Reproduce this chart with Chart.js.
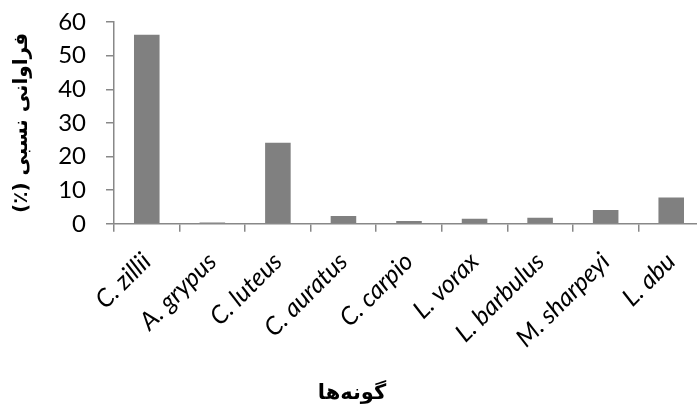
<!DOCTYPE html>
<html>
<head>
<meta charset="utf-8">
<script src="https://cdn.jsdelivr.net/npm/chart.js@4"></script>
<style>
    html, body { margin: 0; padding: 0; background: #ffffff; overflow: hidden; }
    #wrap { width: 704px; height: 414px; }
</style>
</head>
<body>
<div id="wrap"><canvas id="speciesChart"></canvas></div>
<script>
const speciesLabels = ["C. zillii", "A. grypus", "C. luteus", "C. auratus", "C. carpio", "L. vorax", "L. barbulus", "M. sharpeyi", "L. abu"];
const relativeFrequency = [56.2, 0.4, 24.1, 2.3, 0.8, 1.5, 1.8, 4.1, 7.8];
const yTicks = [0, 10, 20, 30, 40, 50, 60];

const yTitle = "\u200Fفراوانی نسبی (٪)\u200F";
const xTitle = "گونه‌ها";

document.addEventListener("DOMContentLoaded", function () {
    const axisColor = "#888888";

    new Chart(document.getElementById("speciesChart"), {
        type: "bar",
        data: {
            labels: speciesLabels,
            datasets: [{
                data: relativeFrequency,
                backgroundColor: "#808080",
                barPercentage: 0.39,
                categoryPercentage: 1,
            }],
        },
        options: {
            responsive: true,
            maintainAspectRatio: false,
            animation: false,
            layout: { padding: { top: 22, left: 0, right: 0, bottom: 0 } },
            plugins: {
                legend: { display: false },
                tooltip: { enabled: false },
                title: {
                    display: true,
                    position: "bottom",
                    text: xTitle,
                    color: "#000000",
                    font: { family: "DejaVu Sans", size: 21, weight: "bold" },
                    padding: { top: 0, bottom: 8 },
                },
            },
            scales: {
                x: {
                    grid: { offset: true, drawOnChartArea: false, drawTicks: true, tickLength: 8, color: axisColor, lineWidth: 1.5 },
                    border: { color: axisColor, width: 1.5 },
                    ticks: {
                        color: "#000000",
                        minRotation: 45,
                        maxRotation: 45,
                        padding: 15,
                        font: { family: "Lato", size: 25, style: "italic" },
                    },
                    afterFit: function (scale) {
                        scale.height = 157;
                        scale.paddingLeft = 0;
                        scale.paddingRight = 0;
                    },
                },
                y: {
                    min: 0,
                    max: 60,
                    afterBuildTicks: function (scale) {
                        scale.ticks = yTicks.map(v => ({ value: v }));
                    },
                    grid: { drawOnChartArea: false, drawTicks: true, tickLength: 8, color: axisColor, lineWidth: 1.5 },
                    border: { color: axisColor, width: 1.5 },
                    ticks: {
                        color: "#000000",
                        padding: 20,
                        font: { family: "Lato", size: 24 },
                    },
                    title: {
                        display: true,
                        text: yTitle,
                        color: "#000000",
                        font: { family: "DejaVu Sans", size: 20, weight: "bold" },
                        padding: { top: 10, bottom: 0 },
                    },
                    afterFit: function (scale) {
                        scale.width = 114;
                        scale.paddingTop = 0;
                        scale.paddingBottom = 0;
                    },
                },
            },
        },
    });
});
</script>
</body>
</html>
